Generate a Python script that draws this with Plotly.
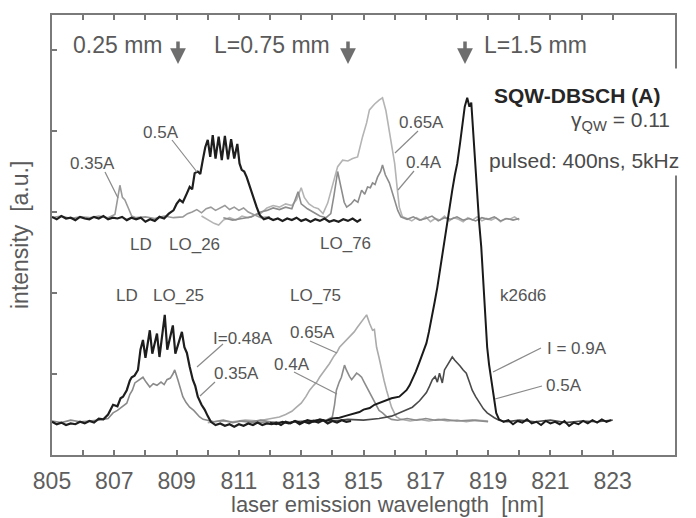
import plotly.graph_objects as go

# ---------------- data ----------------
# upper set (L=0.25 mm device, LO_26) black trace at 0.5 A
up_050_wl = [805.0,805.15,805.3,805.45,805.6,805.75,805.9,806.05,806.2,806.35,806.5,806.65,806.8,806.95,807.1,807.25,807.4,807.55,807.7,807.85,808.0,808.15,808.3,808.45,808.6,808.75,808.9,809.0,809.1,809.2,809.33,809.42,809.5,809.58,809.68,809.76,809.84,809.92,810.0,810.08,810.16,810.25,810.35,810.45,810.55,810.65,810.75,810.85,810.95,811.02,811.09,811.17,811.25,811.33,811.41,811.49,811.57,811.67,811.8,811.95,812.1,812.25,812.4,812.55,812.7,812.85,813.0,813.15,813.3,813.45,813.6,813.75,813.9,814.05,814.2,814.35,814.5,814.65,814.8,814.92]
up_050_I = [2.94,2.91,2.95,2.92,2.93,2.90,2.94,2.92,2.91,2.94,2.92,2.95,2.91,2.93,2.92,2.94,2.90,2.93,2.91,2.93,2.88,2.91,2.89,2.94,2.92,2.98,3.02,3.10,3.15,3.12,3.23,3.31,3.28,3.48,3.50,3.47,3.64,3.80,3.89,3.68,3.95,3.66,3.93,3.64,3.94,3.65,3.90,3.66,3.84,3.60,3.52,3.50,3.43,3.33,3.23,3.14,3.06,2.96,2.91,2.93,2.90,2.92,2.89,2.92,2.90,2.93,2.89,2.91,2.88,2.91,2.89,2.92,2.88,2.90,2.88,2.91,2.89,2.92,2.88,2.91]

# upper set, 0.35 A (gray)
up_035_wl = [805.0,805.3,805.6,805.9,806.2,806.5,806.8,807.02,807.1,807.18,807.26,807.34,807.45,807.56,807.7,808.0,808.3,808.6,808.9,809.2,809.35,809.5,809.65,809.8,809.95,810.1,810.25,810.4,810.55,810.7,810.85,811.0,811.15,811.3,811.5,811.7,812.0]
up_035_I = [2.93,2.95,2.92,2.94,2.93,2.95,2.93,2.97,3.15,3.33,3.18,3.15,3.05,2.95,2.93,2.94,2.92,2.95,2.93,2.94,2.98,3.00,3.03,2.99,3.04,3.06,3.02,3.05,3.08,3.03,3.06,3.02,3.05,3.00,2.96,2.93,2.94]

# upper set (L=0.75 mm, LO_76) 0.65 A (light gray)
up_065_wl = [809.8,810.0,810.2,810.35,810.5,810.7,810.9,811.1,811.3,811.5,811.7,811.9,812.1,812.3,812.5,812.7,812.85,813.0,813.1,813.25,813.4,813.55,813.7,813.85,814.0,814.17,814.33,814.5,814.65,814.81,814.97,815.1,815.19,815.35,815.5,815.61,815.72,815.83,815.92,816.0,816.08,816.15,816.25,816.4,816.55,816.7,816.85,817.0,817.15,817.3,817.45,817.6,817.75,817.9,818.05,818.2,818.35,818.5,818.65,818.8,818.95,819.1,819.25,819.4,819.55,819.7,819.85,820.0]
up_065_I = [2.95,2.90,2.86,2.84,2.90,2.93,2.90,2.95,2.93,2.96,2.98,3.05,3.08,3.06,3.10,3.08,3.15,3.30,3.18,3.10,3.06,3.04,2.98,3.11,3.31,3.56,3.64,3.63,3.66,3.68,3.93,4.10,4.26,4.33,4.38,4.41,4.25,4.01,3.80,3.60,3.30,3.06,2.94,2.92,2.89,2.93,2.90,2.94,2.88,2.92,2.90,2.95,2.89,2.93,2.91,2.88,2.93,2.90,2.94,2.89,2.92,2.90,2.93,2.88,2.92,2.91,2.94,2.90]

# upper set 0.4 A (gray)
up_040_wl = [810.5,810.8,811.1,811.4,811.7,811.9,812.1,812.3,812.5,812.7,812.9,813.0,813.2,813.4,813.6,813.8,813.95,814.05,814.17,814.28,814.38,814.46,814.6,814.71,814.82,814.94,815.04,815.13,815.22,815.29,815.37,815.45,815.55,815.61,815.7,815.83,815.92,816.0,816.1,816.2,816.4,816.6,816.8,817.0,817.2,817.4,817.6,817.8,818.0,818.2,818.4,818.6,818.8,819.0,819.2,819.4,819.6,819.8,820.0]
up_040_I = [2.93,2.90,2.92,2.94,3.00,3.02,3.05,3.03,3.06,3.04,3.25,3.10,3.04,3.00,2.95,2.93,2.98,3.20,3.50,3.30,3.12,3.06,3.10,3.15,3.12,3.27,3.22,3.31,3.30,3.36,3.34,3.43,3.50,3.58,3.46,3.36,3.25,3.15,3.02,2.94,2.91,2.94,2.90,2.92,2.95,2.89,2.93,2.91,2.94,2.90,2.92,2.89,2.93,2.91,2.94,2.89,2.92,2.90,2.92]

# lower set (LO_25) I = 0.48 A (black)
lo_048_wl = [805.0,805.15,805.3,805.45,805.6,805.75,805.9,806.05,806.2,806.35,806.5,806.65,806.8,806.96,807.1,807.2,807.28,807.4,807.5,807.56,807.65,807.76,807.84,807.92,808.0,808.07,808.14,808.22,808.3,808.37,808.45,808.53,808.62,808.7,808.78,808.88,808.96,809.05,809.17,809.25,809.33,809.42,809.52,809.6,809.68,809.8,809.9,810.0,810.1,810.25,810.4,810.55,810.7,810.85,811.0,811.15,811.3,811.45,811.6,811.75,811.9,812.05,812.2,812.35,812.5,812.65,812.8,812.95,813.1,813.25,813.4,813.55,813.7,813.85,814.0,814.15,814.3,814.45,814.6]
lo_048_I = [0.41,0.38,0.40,0.37,0.39,0.38,0.41,0.39,0.42,0.40,0.45,0.44,0.50,0.62,0.60,0.70,0.72,0.80,0.92,0.96,0.98,1.05,1.30,1.42,1.20,1.35,1.54,1.25,1.40,1.50,1.21,1.45,1.73,1.30,1.42,1.60,1.25,1.38,1.52,1.33,1.26,1.09,0.93,0.85,0.72,0.62,0.56,0.48,0.41,0.37,0.39,0.36,0.38,0.35,0.38,0.36,0.39,0.37,0.40,0.37,0.39,0.38,0.40,0.37,0.41,0.39,0.42,0.38,0.41,0.39,0.42,0.40,0.43,0.39,0.42,0.40,0.43,0.41,0.42]

# lower set 0.35 A (gray)
lo_035_wl = [805.0,805.3,805.6,805.9,806.2,806.5,806.8,806.96,807.1,807.25,807.4,807.5,807.58,807.66,807.8,807.92,808.02,808.14,808.25,808.37,808.5,808.6,808.69,808.8,808.88,808.94,809.04,809.12,809.2,809.3,809.42,809.55,809.65,809.74,809.85,809.97,810.2,810.5,810.8,811.1,811.4,811.7,812.0]
lo_035_I = [0.42,0.40,0.43,0.41,0.42,0.43,0.45,0.52,0.55,0.60,0.64,0.75,0.80,0.89,0.93,0.96,0.90,0.84,0.88,0.86,0.90,0.87,0.93,0.95,1.00,1.05,0.93,0.82,0.72,0.65,0.59,0.55,0.50,0.47,0.44,0.43,0.41,0.43,0.40,0.42,0.41,0.43,0.41]

# lower set (LO_75) 0.65 A (light gray)
lo_065_wl = [810.0,810.4,810.8,811.2,811.6,811.9,812.1,812.3,812.5,812.7,812.85,813.0,813.15,813.27,813.4,813.5,813.59,813.75,813.91,814.05,814.15,814.23,814.4,814.55,814.7,814.81,814.95,815.03,815.1,815.2,815.29,815.35,815.42,815.5,815.58,815.66,815.74,815.82,815.9,816.0,816.06,816.2,816.5,816.8,817.1,817.4,817.7,818.0,818.3,818.6,819.0]
lo_065_I = [0.40,0.42,0.41,0.43,0.42,0.44,0.45,0.47,0.50,0.54,0.59,0.64,0.72,0.80,0.86,0.90,0.96,1.04,1.13,1.22,1.27,1.33,1.40,1.46,1.52,1.58,1.66,1.70,1.73,1.62,1.54,1.55,1.33,1.20,1.05,0.92,0.80,0.68,0.59,0.51,0.47,0.44,0.42,0.44,0.42,0.44,0.42,0.43,0.41,0.43,0.42]

# lower set 0.4 A (gray)
lo_040_wl = [811.0,811.5,812.0,812.5,813.0,813.5,813.8,814.0,814.07,814.13,814.22,814.29,814.35,814.39,814.45,814.49,814.55,814.62,814.7,814.78,814.86,814.94,815.02,815.1,815.18,815.26,815.34,815.42,815.5,815.61,815.75,815.9,816.1,816.4,816.7,817.0,817.3,817.6,818.0,818.5,819.0]
lo_040_I = [0.42,0.40,0.41,0.40,0.42,0.41,0.43,0.47,0.62,0.80,0.90,0.96,1.05,1.11,1.05,1.01,0.97,0.93,0.97,1.01,0.99,0.96,0.90,0.84,0.78,0.72,0.66,0.59,0.55,0.52,0.47,0.44,0.43,0.45,0.43,0.45,0.43,0.44,0.42,0.43,0.41]

# k26d6 (L=1.5 mm) I = 0.9 A (black)
k_090_wl = [812.0,812.2,812.4,812.6,812.8,813.0,813.2,813.4,813.6,813.8,814.0,814.23,814.4,814.6,814.87,815.0,815.2,815.35,815.5,815.7,815.9,816.15,816.3,816.38,816.48,816.57,816.68,816.79,816.9,817.02,817.1,817.18,817.28,817.37,817.45,817.53,817.61,817.69,817.77,817.85,817.93,818.01,818.1,818.17,818.25,818.33,818.4,818.46,818.51,818.56,818.6,818.65,818.71,818.78,818.83,818.88,818.93,818.97,819.03,819.1,819.15,819.2,819.26,819.35,819.5,819.65,819.8,819.95,820.1,820.25,820.4,820.55,820.7,820.85,821.0,821.15,821.3,821.45,821.6,821.75,821.9,822.05,822.2,822.35,822.5,822.65,822.8,822.95]
k_090_I = [0.40,0.38,0.41,0.39,0.42,0.40,0.43,0.41,0.44,0.42,0.45,0.46,0.48,0.50,0.53,0.56,0.58,0.62,0.64,0.67,0.70,0.72,0.78,0.80,0.86,0.93,1.03,1.14,1.25,1.38,1.52,1.70,1.88,2.07,2.28,2.49,2.70,2.90,3.08,3.27,3.45,3.60,3.85,4.10,4.30,4.41,4.30,4.35,4.05,3.80,3.50,3.19,2.88,2.57,2.26,1.95,1.64,1.33,1.12,0.93,0.80,0.68,0.52,0.44,0.41,0.43,0.38,0.42,0.40,0.44,0.39,0.41,0.37,0.42,0.39,0.41,0.38,0.42,0.36,0.40,0.38,0.42,0.39,0.43,0.40,0.44,0.41,0.43]

# k26d6 0.5 A (dark gray)
k_050_wl = [813.0,813.5,814.0,814.5,815.0,815.5,815.9,816.15,816.35,816.57,816.8,817.02,817.12,817.21,817.3,817.37,817.44,817.53,817.6,817.66,817.75,817.85,817.93,818.01,818.1,818.2,818.3,818.4,818.49,818.6,818.72,818.85,818.97,819.1,819.2,819.35,819.6,820.0,820.5,821.0,821.5,822.0,822.5,823.0]
k_050_I = [0.41,0.43,0.42,0.44,0.43,0.45,0.48,0.52,0.55,0.59,0.67,0.77,0.85,0.93,0.97,0.90,1.01,0.89,1.05,1.09,1.15,1.21,1.17,1.14,1.10,1.05,1.01,0.90,0.80,0.72,0.64,0.57,0.52,0.48,0.46,0.43,0.41,0.43,0.41,0.43,0.40,0.42,0.41,0.43]

x_tick_vals = list(range(805, 824))
x_tick_text = [str(v) if v % 2 == 1 else "" for v in x_tick_vals]
y_tick_vals = [0, 1, 2, 3, 4, 5]

# ---------------- layout helpers ----------------
W, H = 696, 518
L, R, T, B = 52, 675, 15, 455
X0, X1 = 805.0, 825.0
Y0, Y1 = 0.0, (B - T) / 81.0

def X(px):
    return X0 + (px - L) * (X1 - X0) / (R - L)

def Y(py):
    return Y0 + (B - py) * (Y1 - Y0) / (B - T)

FONT = "Liberation Sans, Arial, sans-serif"

fig = go.Figure()

def add(wl, I, color, width):
    fig.add_trace(go.Scatter(x=wl, y=I, mode="lines",
                             line=dict(color=color, width=width),
                             hoverinfo="skip", showlegend=False))

# draw order: light curves first, black on top
add(up_065_wl, up_065_I, "#b4b4b4", 1.6)
add(up_040_wl, up_040_I, "#8c8c8c", 1.6)
add(up_035_wl, up_035_I, "#9a9a9a", 1.6)
add(up_050_wl, up_050_I, "#1e1e1e", 2.2)
add(lo_065_wl, lo_065_I, "#ababab", 1.6)
add(lo_040_wl, lo_040_I, "#8c8c8c", 1.6)
add(lo_035_wl, lo_035_I, "#8a8a8a", 1.6)
add(k_050_wl, k_050_I, "#4a4a4a", 1.6)
add(lo_048_wl, lo_048_I, "#1e1e1e", 2.2)
add(k_090_wl, k_090_I, "#1a1a1a", 2.0)

annotations = []
shapes = []

def text(px, py, s, size=17, color="#555", anchor="center", bold=False, bg=None):
    if bold:
        s = "<b>" + s + "</b>"
    a = dict(x=X(px), y=Y(py), xref="x", yref="y", text=s, showarrow=False,
             xanchor=anchor, yanchor="middle",
             font=dict(family=FONT, size=size, color=color))
    if bg:
        a["bgcolor"] = bg
    annotations.append(a)

def leader(p0, p1, color="#8a8a8a"):
    shapes.append(dict(type="line", xref="x", yref="y",
                       x0=X(p0[0]), y0=Y(p0[1]), x1=X(p1[0]), y1=Y(p1[1]),
                       line=dict(color=color, width=1.2)))

def down_arrow(px):
    annotations.append(dict(x=X(px), y=Y(64), xref="x", yref="y", text="",
                            showarrow=True, ax=0, ay=-24, arrowhead=2,
                            arrowsize=0.9, arrowwidth=3.5, arrowcolor="#6e6e6e"))

# white box hiding the right frame next to the device text
annotations.append(dict(x=1.0, y=Y(122) / Y1, xref="paper", yref="paper", text=" ",
                        showarrow=False, width=12, height=104, bgcolor="white",
                        xanchor="center", yanchor="middle"))

# top cavity length markers
text(117, 45, "0.25 mm", size=23, color="#5a5a5a")
text(272, 45, "L=0.75 mm", size=23, color="#5a5a5a")
text(535, 45, "L=1.5 mm", size=23, color="#5a5a5a")
down_arrow(178)
down_arrow(348)
down_arrow(465)

# device description
text(577, 95, "SQW-DBSCH (A)", size=21, color="#262626", bold=True)
text(672, 121, "γ<sub>QW</sub> = 0.11", size=21, color="#4a4a4a", anchor="right")
text(487, 160, "pulsed: 400ns, 5kHz", size=21, color="#4a4a4a", anchor="left", bg="white")

# upper set labels
text(92, 163, "0.35A")
leader((105, 172), (118, 198))
text(161, 132, "0.5A")
leader((172, 140), (197, 172))
text(141, 244, "LD")
text(194, 244, "LO_26")
text(345, 243, "LO_76")
text(421, 122, "0.65A")
leader((418, 131), (395, 153))
text(424, 162, "0.4A")
leader((414, 171), (398, 190))

# lower set labels
text(127, 295, "LD")
text(178, 295, "LO_25")
text(315, 295, "LO_75")
text(523, 295, "k26d6")
text(243, 338, "I=0.48A")
leader((223, 344), (197, 367))
text(236, 373, "0.35A")
leader((215, 382), (200, 396))
text(312, 332, "0.65A")
leader((310, 341), (337, 353))
text(292, 364, "0.4A")
leader((294, 372), (337, 394))
text(577, 348, "I = 0.9A")
leader((541, 348), (493, 372))
text(564, 385, "0.5A")
leader((542, 386), (495, 399))

# axis titles
annotations.append(dict(x=(387 - L) / (R - L), y=-(504 - B) / (B - T), xref="paper", yref="paper",
                        text="laser emission wavelength  [nm]", showarrow=False,
                        xanchor="center", yanchor="middle",
                        font=dict(family=FONT, size=22, color="#5a5a5a")))
annotations.append(dict(x=-(L - 20) / (R - L), y=(B - 235) / (B - T), xref="paper", yref="paper",
                        text="intensity  [a.u.]", showarrow=False, textangle=-90,
                        xanchor="center", yanchor="middle",
                        font=dict(family=FONT, size=23, color="#5a5a5a")))

fig.update_layout(
    width=W, height=H,
    margin=dict(l=L, r=W - R, t=T, b=H - B, pad=0),
    paper_bgcolor="white", plot_bgcolor="white",
    annotations=annotations, shapes=shapes,
    showlegend=False,
)
fig.update_xaxes(range=[X0, X1], tickmode="array", tickvals=x_tick_vals, ticktext=x_tick_text,
                 ticks="inside", ticklen=5, tickwidth=1.5, tickcolor="#777",
                 showline=True, linecolor="#7a7a7a", linewidth=2, mirror="ticks",
                 showgrid=False, zeroline=False, ticklabelstandoff=4,
                 tickfont=dict(family=FONT, size=23, color="#5e5e5e"))
fig.update_yaxes(range=[Y0, Y1], tickmode="array", tickvals=y_tick_vals, showticklabels=False,
                 ticks="inside", ticklen=5, tickwidth=1.5, tickcolor="#777",
                 showline=True, linecolor="#7a7a7a", linewidth=2, mirror=True,
                 showgrid=False, zeroline=False)

fig.write_html("out.html")
